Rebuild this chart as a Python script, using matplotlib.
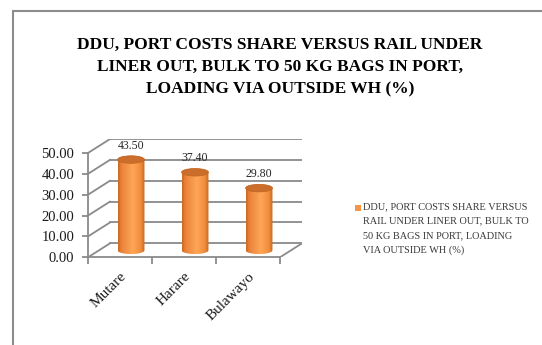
import numpy as np
import matplotlib
matplotlib.use("Agg")
import matplotlib.pyplot as plt
from matplotlib.patches import Rectangle, Ellipse, PathPatch
from matplotlib.path import Path
from matplotlib.colors import LinearSegmentedColormap

# ---- data ----
categories = ["Mutare", "Harare", "Bulawayo"]
values = [43.50, 37.40, 29.80]
series_name = ("DDU, PORT COSTS SHARE VERSUS\nRAIL UNDER LINER OUT, BULK TO\n"
               "50 KG BAGS IN PORT, LOADING\nVIA OUTSIDE WH (%)")
title = ("DDU, PORT COSTS SHARE VERSUS RAIL UNDER\nLINER OUT, BULK TO 50 KG BAGS IN PORT,\n"
         "LOADING VIA OUTSIDE WH (%)")
yticks = [0, 10, 20, 30, 40, 50]

W, H = 542, 345
fig = plt.figure(figsize=(W / 100, H / 100), dpi=100)
plt.rcParams["font.family"] = ["Liberation Serif", "DejaVu Serif"]

# pseudo-3D depth offsets (in data units)
DX = 0.344        # horizontal depth shift, category units
DY = 6.7          # vertical depth shift, value units
YMAX = 50
grid_c = "#8A8A8A"

ax_left, ax_right = 88 / W, 302 / W
ax_bot, ax_top = (H - 257.3) / H, (H - 139) / H
ax = fig.add_axes([ax_left, ax_bot, ax_right - ax_left, ax_top - ax_bot])
n = len(categories)
ax.set_xlim(-0.5, n - 0.5 + DX)
ax.set_ylim(0, YMAX + DY)
ax.patch.set_alpha(0)

# walls: back wall gridlines, side wall diagonals, floor
x0, x1 = -0.5, n - 0.5
for t in yticks:
    ax.plot([x0 + DX, x1 + DX], [t + DY, t + DY], color=grid_c, lw=1.3, zorder=1)
    ax.plot([x0, x0 + DX], [t, t + DY], color=grid_c, lw=1.3, zorder=1)
ax.plot([x1, x1 + DX], [0, DY], color=grid_c, lw=1.3, zorder=1)

# spines as the front axes
for s in ["top", "right"]:
    ax.spines[s].set_visible(False)
ax.spines["left"].set_bounds(0, YMAX)
ax.spines["bottom"].set_bounds(x0, x1)
for s in ["left", "bottom"]:
    ax.spines[s].set_color(grid_c)
    ax.spines[s].set_linewidth(1.3)
ax.set_yticks(yticks)
ax.set_yticklabels([f"{t:.2f}" for t in yticks], fontsize=10.5, color="#1a1a1a")
ax.tick_params(axis="y", direction="out", length=4, width=1.3, color=grid_c, pad=6)
ax.set_xticks(np.arange(n))
ax.set_xticklabels(categories, fontsize=11, rotation=45, ha="right",
                   rotation_mode="anchor", color="#1a1a1a")
ax.tick_params(axis="x", which="major", length=0, pad=9)
ax.set_xticks(np.arange(-0.5, n), minor=True)
ax.tick_params(axis="x", which="minor", direction="out", length=5, width=1.3, color=grid_c)

# cylinders
R = 0.21                   # radius in category units
EH = 3.6                   # ellipse height in value units
cmap = LinearSegmentedColormap.from_list(
    "cyl", [(0, "#C9661F"), (0.12, "#E9823A"), (0.55, "#FFA656"),
            (0.85, "#F08C3C"), (1, "#C4641E")])
grad = np.linspace(0, 1, 256).reshape(1, -1)
for i, v in enumerate(values):
    cx = i + DX / 2
    base = DY / 2
    top = v + DY / 2
    th = np.linspace(np.pi, 2 * np.pi, 40)
    lower = np.column_stack([cx + R * np.cos(th), base + EH / 2 * np.sin(th)])
    th2 = np.linspace(0, np.pi, 40)
    upper = np.column_stack([cx + R * np.cos(th2), top + EH / 2 * np.sin(th2)])
    verts = np.vstack([[[cx - R, top]], lower, [[cx + R, top]], upper, [[cx - R, top]]])
    clip = PathPatch(Path(verts, closed=True), transform=ax.transData,
                     facecolor="none", edgecolor="none")
    ax.add_patch(clip)
    im = ax.imshow(grad, cmap=cmap, aspect="auto", zorder=3,
                   extent=(cx - R, cx + R, base - EH, top + EH), interpolation="bilinear")
    im.set_clip_path(clip)
    ax.add_patch(Ellipse((cx, top), 2 * R, EH, facecolor="#CB6E2C",
                         edgecolor="#C0651F", lw=0.5, zorder=4))
    ax.annotate(f"{v:.2f}", (cx, top), xytext=(0, 14), textcoords="offset pixels",
                ha="center", va="center", fontsize=8.5, color="#262626", zorder=5)

ax.set_xlim(-0.5, n - 0.5 + DX)
ax.set_ylim(0, YMAX + DY)

# title
fig.text(280 / W, 1 - 67 / H, title, ha="center", va="center", fontsize=12.5,
         fontweight="bold", linespacing=1.5)

# legend
fig.patches.append(Rectangle((355 / W, 1 - 211 / H), 6 / W, 6 / H,
                             transform=fig.transFigure, facecolor="#F79646",
                             edgecolor="none"))
fig.text(363 / W, 1 - 202.5 / H, series_name, ha="left", va="top", fontsize=7.4,
         color="#383838", linespacing=1.75)

# chart border
fig.patches.append(Rectangle((13 / W, -0.1), 1.2, 1 - 11 / H + 0.1,
                             transform=fig.transFigure, facecolor="none",
                             edgecolor="#8C8C8C", lw=1.5))

fig.savefig("out.png", dpi=100)
